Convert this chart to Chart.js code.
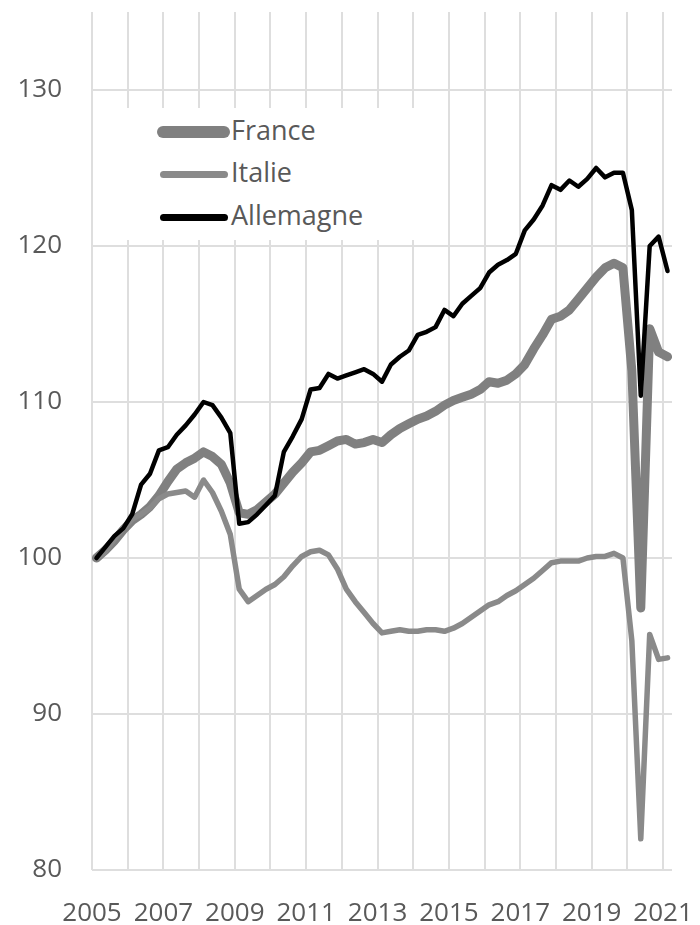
<!DOCTYPE html>
<html>
<head>
<meta charset="utf-8">
<script src="https://cdn.jsdelivr.net/npm/chart.js@4.4.1/dist/chart.umd.min.js"></script>
<style>
  html, body { margin: 0; padding: 0; background: #ffffff; }
  #wrap { position: relative; width: 700px; height: 925px; }
  #c { position: absolute; left: 0; top: 0; }
  #legend { position: absolute; left: 112px; top: 108px; width: 318px; height: 132px; background: #ffffff; }
  .item { position: absolute; left: 0; height: 30px; }
  .swatch { position: absolute; border-radius: 8px; }
  .label { position: absolute; font-family: "Open Sans", "Noto Sans", sans-serif; font-size: 27px; color: #595959; line-height: 30px; white-space: nowrap; }
</style>
</head>
<body>
<div id="wrap">
  <canvas id="c" width="700" height="925"></canvas>
  <div id="legend"></div>
</div>
<script>
// Quarters (2005 T1 -> 2021 T1)
const quarters = [
  "2005T1","2005T2","2005T3","2005T4","2006T1","2006T2","2006T3","2006T4",
  "2007T1","2007T2","2007T3","2007T4","2008T1","2008T2","2008T3","2008T4",
  "2009T1","2009T2","2009T3","2009T4","2010T1","2010T2","2010T3","2010T4",
  "2011T1","2011T2","2011T3","2011T4","2012T1","2012T2","2012T3","2012T4",
  "2013T1","2013T2","2013T3","2013T4","2014T1","2014T2","2014T3","2014T4",
  "2015T1","2015T2","2015T3","2015T4","2016T1","2016T2","2016T3","2016T4",
  "2017T1","2017T2","2017T3","2017T4","2018T1","2018T2","2018T3","2018T4",
  "2019T1","2019T2","2019T3","2019T4","2020T1","2020T2","2020T3","2020T4",
  "2021T1"
];

const france = [
  100.0,100.5,101.1,101.8,102.4,102.8,103.3,104.0,104.9,105.7,
  106.1,106.4,106.8,106.5,106.0,104.8,102.9,102.8,103.1,103.6,
  104.1,104.8,105.5,106.1,106.8,106.9,107.2,107.5,107.6,107.3,
  107.4,107.6,107.4,107.9,108.3,108.6,108.9,109.1,109.4,109.8,
  110.1,110.3,110.5,110.8,111.3,111.2,111.4,111.8,112.4,113.4,
  114.3,115.3,115.5,115.9,116.6,117.3,118.0,118.6,118.9,118.6,
  112.0,96.8,114.7,113.2,112.9
];

const italie = [
  100.0,100.4,101.2,101.9,102.5,102.8,103.2,103.8,104.1,104.2,
  104.3,103.9,105.0,104.2,103.0,101.5,98.0,97.2,97.6,98.0,
  98.3,98.8,99.5,100.1,100.4,100.5,100.2,99.3,98.0,97.2,
  96.5,95.8,95.2,95.3,95.4,95.3,95.3,95.4,95.4,95.3,
  95.5,95.8,96.2,96.6,97.0,97.2,97.6,97.9,98.3,98.7,
  99.2,99.7,99.8,99.8,99.8,100.0,100.1,100.1,100.3,100.0,
  94.7,82.0,95.1,93.5,93.6
];

const allemagne = [
  100.0,100.7,101.4,101.9,102.8,104.7,105.4,106.9,107.1,107.9,
  108.5,109.2,110.0,109.8,109.0,108.0,102.2,102.3,102.8,103.4,
  104.0,106.8,107.8,108.9,110.8,110.9,111.8,111.5,111.7,111.9,
  112.1,111.8,111.3,112.4,112.9,113.3,114.3,114.5,114.8,115.9,
  115.5,116.3,116.8,117.3,118.3,118.8,119.1,119.5,121.0,121.7,
  122.6,123.9,123.6,124.2,123.8,124.3,125.0,124.4,124.7,124.7,
  122.3,110.4,120.0,120.6,118.4
];

const seriesNames = ["France", "Italie", "Allemagne"];
const gridYears = [2005,2006,2007,2008,2009,2010,2011,2012,2013,2014,2015,2016,2017,2018,2019,2020,2021];
const xTickLabels = [2005, 2007, 2009, 2011, 2013, 2015, 2017, 2019, 2021];
const yTicks = [80, 90, 100, 110, 120, 130];

// position of each quarter on the time axis (middle of the quarter)
const xPos = quarters.map(q => parseInt(q.slice(0, 4), 10) + (parseInt(q.slice(5), 10) - 1) / 4 + 0.125);
const toPoints = arr => arr.map((v, i) => ({ x: xPos[i], y: v }));

const styles = [
  { color: '#808080', width: 9, order: 3, legendW: 12 },
  { color: '#8a8a8a', width: 5.5, order: 2, legendW: 7 },
  { color: '#000000', width: 4.5, order: 1, legendW: 7 }
];
const values = [france, italie, allemagne];

const datasets = seriesNames.map((name, k) => ({
  label: name,
  data: toPoints(values[k]),
  borderColor: styles[k].color,
  backgroundColor: styles[k].color,
  borderWidth: styles[k].width,
  order: styles[k].order,
  pointRadius: 0,
  tension: 0,
  borderJoinStyle: 'round',
  borderCapStyle: 'round',
  fill: false
}));

const tickFont = { family: '"Open Sans", "Noto Sans", sans-serif', size: 26 };
const gridColor = '#dedede';

const chart = new Chart(document.getElementById('c'), {
  type: 'line',
  data: { datasets },
  options: {
    responsive: false,
    animation: false,
    devicePixelRatio: 1,
    layout: { padding: { top: 12, right: 28, left: 0, bottom: 0 } },
    plugins: { legend: { display: false }, tooltip: { enabled: false } },
    scales: {
      x: {
        type: 'linear',
        min: 2005,
        max: 2021.25,
        afterBuildTicks: axis => { axis.ticks = gridYears.map(v => ({ value: v })); },
        afterFit: s => { s.height = 55; s.paddingLeft = 0; s.paddingRight = 0; },
        ticks: {
          autoSkip: false,
          maxRotation: 0,
          padding: 28,
          color: '#595959',
          font: tickFont,
          callback: v => xTickLabels.includes(v) ? String(v) : ''
        },
        grid: { color: gridColor, lineWidth: 2, drawTicks: false },
        border: { display: false }
      },
      y: {
        min: 80,
        max: 135,
        afterBuildTicks: axis => { axis.ticks = yTicks.map(v => ({ value: v })); },
        afterFit: s => { s.width = 92; s.paddingTop = 0; s.paddingBottom = 0; },
        ticks: {
          padding: 30,
          color: '#595959',
          font: tickFont
        },
        grid: { color: gridColor, lineWidth: 2, drawTicks: false },
        border: { display: false }
      }
    }
  }
});

// HTML legend built from the chart's datasets
const legendEl = document.getElementById('legend');
const rowsY = [24, 66, 109];
chart.data.datasets.forEach((ds, k) => {
  const item = document.createElement('div');
  item.className = 'item';
  item.style.top = (rowsY[k] - 15) + 'px';
  const sw = document.createElement('div');
  sw.className = 'swatch';
  const lw = styles[k].legendW;
  sw.style.left = (k === 0 ? 45 : 48) + 'px';
  sw.style.width = (k === 0 ? 73 : 68) + 'px';
  sw.style.height = lw + 'px';
  sw.style.top = (15 - lw / 2) + 'px';
  sw.style.background = ds.borderColor;
  const lab = document.createElement('div');
  lab.className = 'label';
  lab.style.left = '119px';
  lab.style.top = '-2px';
  lab.textContent = ds.label;
  item.appendChild(sw);
  item.appendChild(lab);
  legendEl.appendChild(item);
});
</script>
</body>
</html>
